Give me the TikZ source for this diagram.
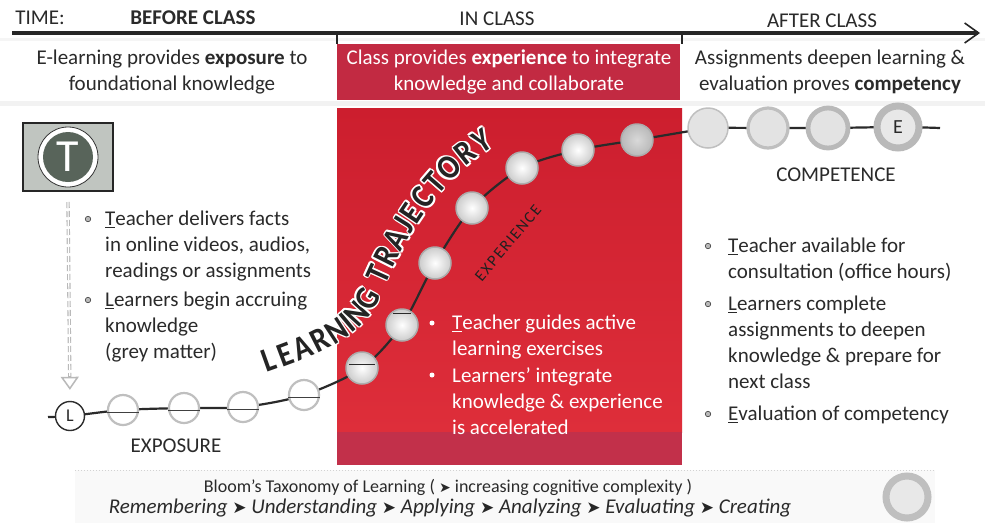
\documentclass[tikz,border=0pt]{standalone}
\usepackage{fontspec}
\setmainfont{Carlito}
\newfontfamily\dejavu{DejaVu Sans}
\usetikzlibrary{arrows.meta}
\newcommand\fsz[2]{\fontsize{#1}{#2}\selectfont}
\newcommand\tip{{\dejavu\fsz{14}{14}➤}}
\newcommand\btip{{\dejavu\fsz{17}{17}\color{gray!30!black}➤}}
\newcommand\glw[1]{\scalebox{0.88}[1]{%
\makebox[0pt]{\color{white}\hspace*{3.6pt}#1}%
\makebox[0pt]{\color{white}\hspace*{-3.6pt}#1}%
\makebox[0pt]{\color{white}\raisebox{1.8pt}{#1}}%
\makebox[0pt]{\color{white}\raisebox{-1.8pt}{#1}}%
\makebox[0pt]{\color{white}\hspace*{2.6pt}\raisebox{1.3pt}{#1}}%
\makebox[0pt]{\color{white}\hspace*{-2.6pt}\raisebox{-1.3pt}{#1}}%
\makebox[0pt]{\color{white}\hspace*{2.6pt}\raisebox{-1.3pt}{#1}}%
\makebox[0pt]{\color{white}\hspace*{-2.6pt}\raisebox{1.3pt}{#1}}%
\makebox[0pt]{#1}}}
\definecolor{hdrred}{RGB}{194,42,66}
\definecolor{boxtop}{RGB}{204,30,46}
\definecolor{boxbot}{RGB}{222,46,58}
\definecolor{bandred}{RGB}{194,48,74}
\definecolor{ink}{RGB}{42,42,42}
\definecolor{tboxfill}{RGB}{192,197,192}
\definecolor{tcirc}{RGB}{88,100,90}
\tikzset{
  txt/.style={font=\fsz{21}{26}, text=ink, inner sep=0},
  item/.style={txt, align=left, anchor=north west},
  hdr/.style={font=\fsz{21}{22}, text=ink, inner sep=0},
  bul/.style={circle, inner sep=0, minimum size=5.5, fill=gray!55, draw=gray!30!black, line width=0.5},
  wbul/.style={circle, inner sep=0, minimum size=5, fill=white},
  expc/.style={circle, inner sep=0, minimum size=30, fill=white, draw=gray!50, line width=2.2},
  redc/.style={circle, inner sep=0, minimum size=32, draw=gray!65, line width=1.5, inner color=white, outer color=gray!40},
  rcirc/.style={circle, inner sep=0, minimum size=40, fill=gray!22, draw=gray!50},
  traj/.style={line width=2.2, draw=ink},
  ltr/.style={sloped, inner sep=0, font=\fsz{34}{34}\bfseries, text=gray!28!black},
}
\begin{document}
\begin{tikzpicture}[x=1pt,y=-1pt]
\useasboundingbox (0,0) rectangle (985,523);
\fill[white] (0,0) rectangle (985,523);
% faint scan bands
\fill[gray!10] (0,101) rectangle (985,106);
\fill[gray!8] (0,38) rectangle (985,41);
% red boxes
\fill[hdrred] (337,44) rectangle (680,100);
\shade[top color=boxtop, bottom color=boxbot] (337,108) rectangle (682,432);
\fill[bandred] (337,432) rectangle (682,465);
% bloom band
\fill[gray!5] (75,470) rectangle (935,523);
\draw[gray!35, dotted, line width=1] (75,470) -- (935,470);

% time arrow
\coordinate (ts) at (12,33);
\coordinate (te) at (980,33);
\draw[line width=3.2, draw=gray!30!black, -{Straight Barb[length=14,width=20,line width=1.6pt]}] (ts) -- (te);
\coordinate (k1a) at (337,32); \coordinate (k1b) at (337,44);
\coordinate (k2a) at (682,32); \coordinate (k2b) at (682,44);
\draw[line width=1.6, gray!30!black] (k1a) -- (k1b);
\draw[line width=1.6, gray!30!black] (k2a) -- (k2b);

\node[hdr] (time) at (40,18) {TIME:};
\node[hdr, font=\fsz{21}{22}\bfseries] (before) at (193,18) {BEFORE CLASS};
\node[hdr] (inclass) at (497,19) {IN CLASS};
\node[hdr] (after) at (822,21) {AFTER CLASS};

\node[txt, align=center] (hl) at (172,72) {E-learning provides \textbf{exposure} to\\foundational knowledge};
\node[txt, align=center, text=white] (hm) at (509,72) {Class provides \textbf{experience} to integrate\\knowledge and collaborate};
\node[txt, align=center] (hr) at (830,72) {Assignments deepen learning \&\\evaluation proves \textbf{competency}};

% trajectory coordinates
\coordinate (p0) at (48,417);
\coordinate (pL) at (70,416);
\coordinate (e1) at (123,410);
\coordinate (e2) at (184,408);
\coordinate (e3) at (243,407);
\coordinate (e4) at (304,395);
\coordinate (r1) at (362,368);
\coordinate (r2) at (402,325);
\coordinate (r3) at (435,263);
\coordinate (r4) at (472,208);
\coordinate (r5) at (522,168);
\coordinate (r6) at (578,150);
\coordinate (r7) at (637,140);
\coordinate (pm) at (690,131);
\coordinate (c1) at (708,128);
\coordinate (c2) at (768,128);
\coordinate (c3) at (828,128);
\coordinate (cE) at (898,127);
\coordinate (pend) at (940,128);
\draw[traj] plot[smooth, tension=0.5] coordinates {(p0) (pL) (e1) (e2) (e3) (e4) (r1) (r2) (r3) (r4) (r5) (r6) (r7) (pm) (c1) (c2) (c3) (cE) (pend)};

% learning trajectory text (letters along two curves)
\path (262,363) .. controls (310,346) and (354,330) .. (370,293)
  node[ltr, pos=0.05] (lt-L) {\glw{L}}
  node[ltr, pos=0.165] (lt-E) {\glw{E}}
  node[ltr, pos=0.295] (lt-A) {\glw{A}}
  node[ltr, pos=0.435] (lt-R) {\glw{R}}
  node[ltr, pos=0.575] (lt-N) {\glw{N}}
  node[ltr, pos=0.685] (lt-I) {\glw{I}}
  node[ltr, pos=0.795] (lt-N2) {\glw{N}}
  node[ltr, pos=0.945] (lt-G) {\glw{G}};
\path (370,293) .. controls (388,248) and (428,168) .. (496,133)
  node[ltr, pos=0.13] (lt-T) {\glw{T}}
  node[ltr, pos=0.235] (lt-R2) {\glw{R}}
  node[ltr, pos=0.335] (lt-A2) {\glw{A}}
  node[ltr, pos=0.415] (lt-J) {\glw{J}}
  node[ltr, pos=0.48] (lt-E2) {\glw{E}}
  node[ltr, pos=0.565] (lt-C) {\glw{C}}
  node[ltr, pos=0.65] (lt-T2) {\glw{T}}
  node[ltr, pos=0.74] (lt-O) {\glw{O}}
  node[ltr, pos=0.84] (lt-R3) {\glw{R}}
  node[ltr, pos=0.93] (lt-Y) {\glw{Y}};

% exposure circles
\node[circle, inner sep=0, minimum size=29, fill=white, draw=gray!35!black, line width=1.4, font=\fsz{18}{18}, text=ink] (nL) at (pL) {L};
\foreach \n in {e1,e2,e3,e4}{
  \node[expc] (n\n) at (\n) {};
  \draw[gray!50!black, line width=0.9] ([yshift=-2pt]n\n.west) -- ([yshift=-2pt]n\n.east);
}
% red circles
\foreach \n in {r1,r2,r3,r4,r5,r6}{ \node[redc] (n\n) at (\n) {}; }
\node[redc, inner color=gray!30, outer color=gray!55] (nr7) at (r7) {};
\draw[ink, line width=1] ([shift={(-13,-4)}]r1) -- ([shift={(13,-4)}]r1);
\draw[ink, line width=1] ([shift={(-9,-12)}]r2) -- ([shift={(9,-12)}]r2);
% right circles
\node[rcirc, line width=1.5] (nc1) at (c1) {};
\node[rcirc, line width=3.2] (nc2) at (c2) {};
\node[rcirc, line width=4.8, draw=gray!55] (nc3) at (c3) {};
\node[circle, inner sep=0, minimum size=42, line width=7, draw=gray!55, fill=gray!18, font=\fsz{20}{20}, text=ink] (nE) at (cE) {E};

\node[txt] (expo) at (176,446) {EXPOSURE};
\node[txt] (comp) at (836,175) {COMPETENCE};
\node[font=\fsz{16}{16}\addfontfeature{LetterSpace=10}, text=gray!25!black, rotate=50, inner sep=0] (exper) at (508,243) {EXPERIENCE};

% teacher box
\node[draw=gray!30!black, line width=2, fill=tboxfill, minimum width=90, minimum height=68, inner sep=0] (tb) at (68,157) {};
\node[circle, inner sep=0, minimum size=60, fill=white, draw=gray!40!black, line width=0.8] (tcw) at (tb.center) {};
\node[circle, inner sep=0, minimum size=50, fill=tcirc, text=white, font=\fsz{46}{46}] (tc) at (tb.center) {T};

% dashed arrow
\draw[gray!55, line width=3.4, dash pattern=on 6pt off 3pt, -{Triangle[open, width=18pt, length=13pt, line width=1.5pt]}, shorten >=11pt] ([yshift=-10pt]tb.south) -- (nL.north);
\draw[white, line width=1.2, dash pattern=on 6pt off 3pt, shorten >=25pt] ([yshift=-10pt]tb.south) -- (nL.north);

% left bullets
\node[bul] (lb1) at (88,219) {};
\node[item] (lt1) at (105,211) {\underline{T}eacher delivers facts\\in online videos, audios,\\readings or assignments};
\node[bul] (lb2) at (88,300) {};
\node[item] (lt2) at (105,292) {\underline{L}earners begin accruing\\knowledge\\(grey matter)};

% red bullets
\node[wbul] (mb1) at (432,323) {};
\node[item, text=white] (mt1) at (452,315) {\underline{T}eacher guides active\\learning exercises};
\node[wbul] (mb2) at (432,375) {};
\node[item, text=white] (mt2) at (452,367) {Learners’ integrate\\knowledge \& experience\\is accelerated};

% right bullets
\node[bul] (rb1) at (708,246) {};
\node[item] (rt1) at (728,238) {\underline{T}eacher available for\\consultation (office hours)};
\node[bul] (rb2) at (708,304) {};
\node[item] (rt2) at (728,296) {\underline{L}earners complete\\assignments to deepen\\knowledge \& prepare for\\next class};
\node[bul] (rb3) at (708,414) {};
\node[item] (rt3) at (728,406) {\underline{E}valuation of competency};

% bloom
\node[font=\fsz{18}{18}, text=ink, inner sep=0] (bl1) at (448,487) {Bloom’s Taxonomy of Learning ( \tip{} increasing cognitive complexity )};
\node[font=\fsz{21}{22}\itshape, text=ink, inner sep=0] (bl2) at (450,508) {Remembering \btip{} Understanding \btip{} Applying \btip{} Analyzing \btip{} Evaluating \btip{} Creating};
\node[circle, inner sep=0, minimum size=42, line width=7, draw=gray!50, fill=gray!18] (bc) at (907,497) {};
\end{tikzpicture}
\end{document}
